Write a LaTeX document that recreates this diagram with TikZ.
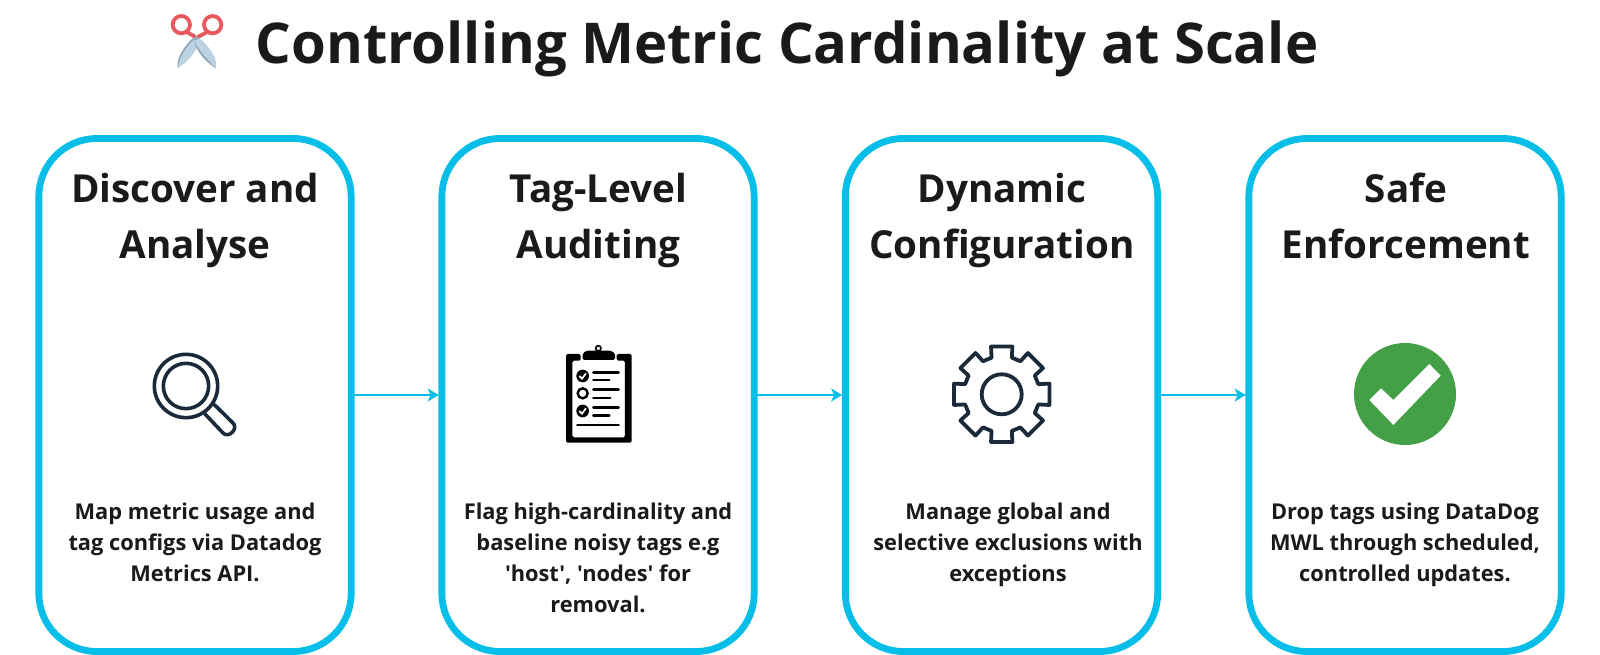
\documentclass[tikz,border=0pt]{standalone}
\usepackage{fontspec}
\setmainfont{Open Sans}[BoldFont={Open Sans Bold},Ligatures=TeXOff]
\usetikzlibrary{arrows.meta}
\definecolor{boxblue}{HTML}{06BEE8}
\definecolor{inkdark}{HTML}{1A1A1A}
\definecolor{iconnavy}{HTML}{1B2A3A}
\definecolor{okgreen}{HTML}{43A047}
\definecolor{scisred}{HTML}{E8585E}
\definecolor{bladea}{HTML}{BCD3E4}
\definecolor{bladeb}{HTML}{8FA6B6}
\tikzset{
  stage/.style={draw=boxblue,line width=6.8pt,rounded corners=58pt,minimum width=312.3pt,minimum height=513pt,inner sep=0pt,outer sep=0pt,fill=white},
  flow/.style={draw=boxblue,line width=1.6pt,-{Stealth[length=11pt,width=13pt,inset=3pt]},shorten <=3.2pt,shorten >=3.2pt},
  head/.style={anchor=north,align=center,font=\fontsize{38.6}{55.5}\selectfont\bfseries,text=inkdark,inner sep=0pt},
  body/.style={anchor=north,align=center,font=\fontsize{21.8}{31}\selectfont\bfseries,text=inkdark,inner sep=0pt},
  ttl/.style={font=\fontsize{56.2}{60}\selectfont\bfseries,text=inkdark,inner sep=0pt},
  icon/.style={x=0.3333pt,y=-0.3333pt},
  navy/.style={draw=iconnavy,line width=3.6pt,line cap=round,line join=round},
  blk/.style={draw=black,line width=2.4pt,line cap=round},
}
\begin{document}
\begin{tikzpicture}[x=1pt,y=-1pt]
\useasboundingbox (0,0) rectangle (1600,655);
\fill[white] (0,0) rectangle (1600,655);
\node[ttl] (title) at (787,49) {Controlling Metric Cardinality at Scale};
% scissors
\begin{scope}[shift={(140,0)},icon]
  \fill[bladea] (160,113) .. controls (132,140) and (108,175) .. (113,205) .. controls (145,185) and (175,150) .. (176,120) -- cycle;
  \fill[bladeb] (160,113) .. controls (132,140) and (108,175) .. (113,205) .. controls (116,175) and (136,140) .. (163,118) -- cycle;
  \fill[bladea] (176,113) .. controls (204,135) and (236,175) .. (227,205) .. controls (197,185) and (165,150) .. (162,120) -- cycle;
  \fill[bladeb] (227,205) .. controls (197,185) and (165,150) .. (162,120) .. controls (172,150) and (205,180) .. (227,205) -- cycle;
  \draw[scisred,line width=3.8pt] (124,74) ellipse [x radius=26,y radius=26];
  \draw[scisred,line width=3.8pt] (218,74) ellipse [x radius=26,y radius=26];
  \draw[scisred,line width=3.8pt,line cap=round] (140,96) -- (165,110);
  \draw[scisred,line width=3.8pt,line cap=round] (202,96) -- (175,110);
  \fill[bladeb] (168,115) circle (6);
\end{scope}
% boxes
\node[stage] (b1) at (195,395) {};
\node[stage] (b2) at (598,395) {};
\node[stage] (b3) at (1001.5,395) {};
\node[stage] (b4) at (1405,395) {};
\draw[flow] (b1.east) -- (b2.west);
\draw[flow] (b2.east) -- (b3.west);
\draw[flow] (b3.east) -- (b4.west);
% headings
\node[head] (h1) at (195,173) {Discover and\\Analyse};
\node[head] (h2) at (598.5,173) {Tag-Level\\Auditing};
\node[head] (h3) at (1002,173) {Dynamic\\Configuration};
\node[head] (h4) at (1406,173) {Safe\\Enforcement};
% bodies
\node[body] (t1) at (195,503) {Map metric usage and\\tag configs via Datadog\\Metrics API.};
\node[body] (t2) at (598,503) {Flag high-cardinality and\\baseline noisy tags e.g\\'host', 'nodes' for\\removal.};
\node[body] (t3) at (1008,503) {Manage global and\\selective exclusions with\\exceptions};
\node[body] (t4) at (1405,503) {Drop tags using DataDog\\MWL through scheduled,\\controlled updates.};
% magnifier
\begin{scope}[shift={(130,330)},icon]
  \draw[navy] (168,168) circle (95);
  \draw[navy] (168,168) circle (68);
  \draw[navy] (225,252) -- (278,308) .. controls (295,328) and (328,295) .. (308,278) -- (253,224);
\end{scope}
% clipboard
\begin{scope}[shift={(540,330)},icon]
  \fill[black,rounded corners=1.5pt] (78,72) -- (122,72) -- (122,92) -- (97,92) -- (97,322) -- (255,322) -- (255,92) -- (230,92) -- (230,72) -- (275,72) -- (275,338) -- (78,338) -- cycle;
  \fill[black,rounded corners=1.5pt] (128,90) -- (128,70) -- (140,62) -- (212,62) -- (225,70) -- (225,90) -- cycle;
  \draw[black,line width=1.6pt] (175,55) circle (8);
  \foreach \yy in {138,243} {
    \fill[black] (128,\yy) circle (19);
    \draw[white,line width=1.7pt] (118,\yy) -- (126,\yy+8) -- (138,\yy-8);
  }
  \draw[black,line width=2.4pt] (128,190) circle (15);
  \draw[blk] (160,127) -- (236,127);
  \draw[blk] (160,150) -- (208,150);
  \draw[blk] (160,178) -- (236,178);
  \draw[blk] (160,204) -- (211,204);
  \draw[blk] (160,232) -- (236,232);
  \draw[blk] (160,256) -- (208,256);
  \draw[blk] (112,285) -- (236,285);
\end{scope}
% gear
\begin{scope}[shift={(1001.7,394.3)}]
  \draw[navy,line width=3.8pt] (0,0) circle (20);
  \foreach \a in {0,45,...,315} {
    \pgfmathsetmacro{\n}{\a+45}
    \draw[navy,line width=3.8pt] (\a-15.5:38) -- (\a-12.6:48.9) -- (\a+12.6:48.9) -- (\a+15.5:38) -- (\n-15.5:38);
  }
\end{scope}
% check badge
\begin{scope}[shift={(1330,330)},icon]
  \fill[okgreen] (225,192) circle (153);
  \fill[white] (118,210) -- (153,175) -- (190,210) -- (298,102) -- (332,137) -- (190,285) -- cycle;
\end{scope}
\end{tikzpicture}
\end{document}
